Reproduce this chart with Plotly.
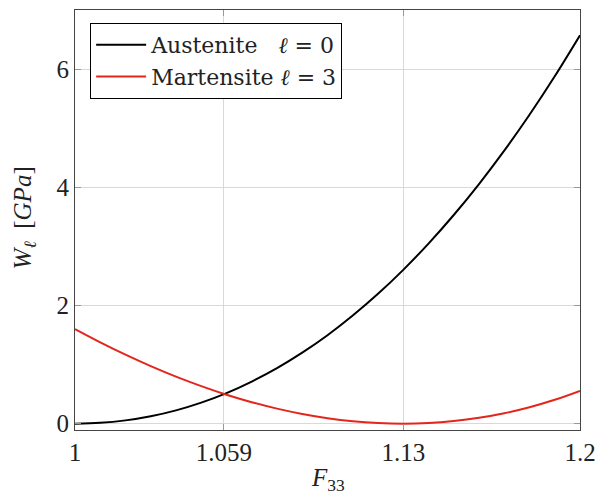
import plotly.graph_objects as go

F33 = [1.00, 1.01, 1.02, 1.03, 1.04, 1.05, 1.06, 1.07, 1.08, 1.09, 1.10,
       1.11, 1.12, 1.13, 1.14, 1.15, 1.16, 1.17, 1.18, 1.19, 1.20]
austenite = [0.0, 0.014, 0.056, 0.126, 0.226, 0.357, 0.519, 0.714, 0.941, 1.203, 1.499,
             1.832, 2.200, 2.607, 3.052, 3.536, 4.061, 4.627, 5.235, 5.887, 6.582]
martensite = [1.602, 1.378, 1.169, 0.975, 0.797, 0.636, 0.491, 0.364, 0.255, 0.165, 0.094,
              0.042, 0.011, 0.0, 0.011, 0.044, 0.099, 0.177, 0.279, 0.405, 0.556]

x_ticks = [1, 1.059, 1.13, 1.2]
x_tick_labels = ["1", "1.059", "1.13", "1.2"]
y_ticks = [0, 2, 4, 6]

serif = "Liberation Serif, DejaVu Serif, serif"
legend_font = "DejaVu Serif, Liberation Serif, serif"

fig = go.Figure()
fig.add_trace(go.Scatter(x=F33, y=austenite, mode="lines", line=dict(color="black", width=2, shape="spline"),
                         name="Austenite &nbsp;&nbsp;<i>ℓ</i> = 0"))
fig.add_trace(go.Scatter(x=F33, y=martensite, mode="lines", line=dict(color="#e3261c", width=2, shape="spline"),
                         name="Martensite <i>ℓ</i> = 3"))

axis_common = dict(showline=True, linecolor="#444", linewidth=1.2, mirror="ticks",
                   ticks="inside", ticklen=6, tickcolor="#999", showgrid=True,
                   gridcolor="#d9d9d9", gridwidth=1, zeroline=False, automargin=False,
                   tickfont=dict(family=serif, size=25, color="#222"))

fig.update_layout(
    width=598, height=495,
    margin=dict(l=75, r=18, t=10, b=65),
    paper_bgcolor="white", plot_bgcolor="white",
    xaxis=dict(range=[1, 1.2], tickvals=x_ticks, ticktext=x_tick_labels, **axis_common),
    yaxis=dict(range=[-0.107, 7.01], tickvals=y_ticks, **axis_common),
    legend=dict(x=0.03, y=0.969, xanchor="left", yanchor="top", bgcolor="white",
                bordercolor="black", borderwidth=1, itemwidth=50,
                font=dict(family=legend_font, size=22, color="#222"), tracegroupgap=0),
    showlegend=True,
    annotations=[
        dict(text="<i>F</i><sub>33</sub>", xref="paper", yref="paper", x=0.5, y=-0.118,
             xanchor="center", yanchor="middle", showarrow=False,
             font=dict(family=serif, size=25, color="#222")),
        dict(text="<i>W</i><sub><i>ℓ</i></sub> &nbsp;[<i>GPa</i>]", xref="paper", yref="paper",
             x=-0.1, y=0.505, xanchor="center", yanchor="middle", textangle=-90, showarrow=False,
             font=dict(family=serif, size=25, color="#222")),
    ],
)

fig.write_html("out.html", config={"displayModeBar": False},
               post_script="document.body.style.margin='0';")
